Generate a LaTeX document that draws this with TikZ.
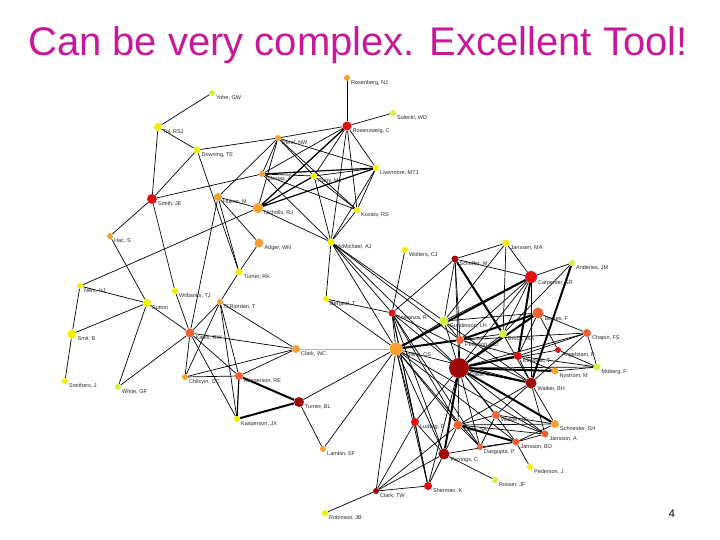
\documentclass[tikz,border=0pt]{standalone}
\usepackage{fontspec}
\setmainfont{Liberation Sans}
\usetikzlibrary{backgrounds}
\definecolor{cy}{HTML}{F0F000}
\definecolor{cg}{HTML}{D4F040}
\definecolor{co}{HTML}{F5A030}
\definecolor{cr}{HTML}{F06030}
\definecolor{cR}{HTML}{E01010}
\definecolor{cd}{HTML}{A00808}
\definecolor{tit}{HTML}{C8189A}
\tikzset{dot/.style={circle,draw=none,inner sep=0pt},
 lab/.style={font=\fontsize{5.5}{6}\selectfont,inner sep=1pt,text=black!85},
 ed/.style={line width=0.7pt,black},
 edt/.style={line width=2pt,black}}
\newcommand\NN[6]{\node[dot,fill=#4,minimum size=#5pt,label={[lab]-20:#6}] (#1) at (#2,#3) {};}
\begin{document}
\begin{tikzpicture}[x=1pt,y=-1pt]
\useasboundingbox (0,0) rectangle (720,540);
\node[font=\fontsize{40}{44}\selectfont,text=tit] (title) at (358,45) {Can be very complex. Excellent Tool!};
\node[font=\fontsize{11}{12}\selectfont] (pg) at (672,514) {4};
\NN{rosb}{347}{78}{co}{6}{Rosenberg, NJ}
\NN{sole}{393}{113}{cg}{6}{Solecki, WD}
\NN{yohe}{212}{93}{cg}{6}{Yohe, GW}
\NN{tol}{158}{127}{cy}{8}{Tol, RSJ}
\NN{dowl}{197}{150}{cy}{7}{Downing, TE}
\NN{rosz}{347}{126}{cR}{9}{Rosenzweig, C}
\NN{pere}{278}{138}{co}{6}{Perel, NW}
\NN{igle}{262}{174}{co}{6}{Iglesias, A}
\NN{parr}{314}{176}{cy}{6}{Parry, ML}
\NN{live}{376}{168}{cy}{6}{Livermore, MTJ}
\NN{smje}{152}{199}{cR}{10}{Smith, JE}
\NN{hulm}{218}{197}{co}{8}{Hulme, M}
\NN{nich}{258}{208}{co}{10}{Nicholls, RJ}
\NN{kova}{357}{210}{cy}{6}{Kovats, RS}
\NN{hac}{110}{236}{co}{6}{Hac, S}
\NN{adge}{259}{243}{co}{9}{Adger, WN}
\NN{mcmi}{331}{242}{cy}{7}{McMichael, AJ}
\NN{turk}{239}{272}{cy}{7}{Turner, RK}
\NN{wolt}{405}{250}{cy}{6}{Wolters, CJ}
\NN{jans}{506}{243}{cy}{7}{Janssen, MA}
\NN{sche}{455}{259}{cd}{7}{Scheffer, M}
\NN{ande}{572}{263}{cg}{6}{Anderies, JM}
\NN{carp}{531}{277}{cR}{12}{Carpenter, SR}
\NN{nem}{80}{286}{cy}{6}{Nem, HJ}
\NN{wilb}{175}{291}{cy}{6}{Wilbanks, TJ}
\NN{sutt}{147}{303}{cy}{8}{Sutton}
\NN{orio}{220}{302}{co}{6}{O'Riordan, T}
\NN{berg}{326}{299}{cy}{6}{Bergeal, T}
\NN{cost}{392}{313}{cR}{7}{Costanza, R}
\NN{berk}{538}{313}{cr}{11}{Berkes, F}
\NN{gund}{444}{321}{cg}{9}{Gunderson, LH}
\NN{broc}{503}{334}{cg}{8}{Brock, WA}
\NN{chap}{587}{333}{cr}{8}{Chapin, FS}
\NN{pete}{460}{340}{cr}{8}{Peterson, GD}
\NN{smit}{72}{334}{cy}{9}{Smit, B}
\NN{kate}{190}{333}{cr}{9}{Kates, RW}
\NN{clwc}{296}{349}{co}{8}{Clark, WC}
\NN{holl}{396}{349}{co}{13}{Holling, CS}
\NN{folk}{459}{368}{cd}{20}{Folke, C}
\NN{elmq}{518}{356}{cR}{8}{Elmqvist, T}
\NN{ange}{558}{350}{cR}{6}{Angelstam, P}
\NN{nyst}{555}{371}{co}{7}{Nystrom, M}
\NN{mobe}{597}{367}{cg}{7}{Moberg, F}
\NN{walk}{531}{383}{cd}{11}{Walker, BH}
\NN{chil}{185}{377}{co}{6}{Chilcyin, OC}
\NN{kasr}{239}{376}{cr}{8}{Kasperson, RE}
\NN{smth}{65}{381}{cy}{6}{Smithers, J}
\NN{whit}{118}{387}{cg}{6}{White, GF}
\NN{turb}{299}{402}{cd}{10}{Turner, BL}
\NN{kasj}{237}{419}{cy}{6}{Kasperson, JX}
\NN{wajg}{496}{415}{cr}{8}{Walker, JG}
\NN{ludw}{415}{422}{cR}{8}{Ludwig, D}
\NN{levi}{458}{425}{cr}{9}{Levin, SA}
\NN{schn}{555}{424}{co}{8}{Schneider, SH}
\NN{jana}{545}{434}{cr}{7}{Jansson, A}
\NN{janb}{516}{442}{cr}{7}{Jansson, BO}
\NN{dasg}{480}{447}{cr}{6}{Dasgupta, P}
\NN{perr}{444}{454}{cd}{11}{Perrings, C}
\NN{pede}{530}{467}{cy}{6}{Pederson, J}
\NN{lamb}{323}{449}{co}{6}{Lambin, EF}
\NN{sher}{428}{486}{cR}{8}{Sherman, K}
\NN{ross}{495}{480}{cg}{6}{Rosser, JF}
\NN{cltw}{376}{491}{cd}{6}{Clark, TW}
\NN{robi}{325}{513}{cy}{6}{Robinson, JB}
\begin{scope}[on background layer]
\foreach \a/\b in {rosb/rosz,sole/rosz,yohe/tol,tol/smje,tol/dowl,dowl/smje,dowl/pere,dowl/turk,
 pere/rosz,pere/igle,pere/nich,pere/parr,pere/kova,pere/live,pere/hulm,
 rosz/igle,rosz/parr,rosz/nich,rosz/live,rosz/kova,rosz/mcmi,
 igle/parr,igle/kova,parr/live,parr/kova,parr/mcmi,live/kova,live/mcmi,
 nich/mcmi,kova/mcmi,igle/mcmi,smje/igle,smje/hac,smje/wilb,hulm/nich,hulm/adge,hulm/turk,hulm/kate,
 adge/turk,nich/nem,hac/sutt,wolt/cost,mcmi/berg,mcmi/holl,mcmi/folk,mcmi/cost,mcmi/pete,mcmi/gund,
 nem/sutt,nem/smit,smit/sutt,smit/smth,sutt/whit,sutt/kate,wilb/kate,kate/orio,kate/clwc,kate/chil,kate/kasr,
 kate/kasj,kate/whit,orio/chil,orio/kasr,orio/clwc,orio/kasj,turk/orio,chil/clwc,chil/kasr,kasr/clwc,
 turb/lamb,turb/holl,lamb/holl,berg/cost,berg/holl,
 jans/sche,jans/carp,jans/gund,jans/broc,ande/carp,ande/broc,sche/carp,sche/gund,sche/cost,sche/pete,
 sche/folk,carp/folk,carp/broc,carp/gund,carp/walk,carp/pete,berk/chap,berk/elmq,berk/gund,
 berk/ange,chap/pete,chap/walk,chap/elmq,chap/folk,chap/mobe,gund/holl,gund/folk,gund/pete,broc/folk,broc/holl,
 pete/folk,pete/holl,cost/holl,cost/folk,cost/perr,cost/ludw,cost/levi,cost/sher,holl/walk,holl/ludw,
 holl/perr,holl/levi,holl/dasg,holl/janb,holl/sher,holl/cltw,folk/levi,folk/wajg,folk/dasg,
 folk/jana,folk/janb,folk/ludw,folk/mobe,folk/ange,elmq/nyst,elmq/mobe,elmq/walk,ange/mobe,
 nyst/mobe,walk/schn,walk/levi,walk/wajg,walk/jana,levi/wajg,levi/dasg,levi/perr,levi/jana,
 levi/schn,wajg/jana,wajg/dasg,wajg/schn,jana/janb,janb/dasg,janb/pede,janb/perr,schn/janb,
 perr/ross,perr/sher,perr/cltw,ludw/perr,ludw/sher,ludw/cltw,cltw/robi,cltw/sher,cltw/levi,
 folk/sher,cost/dasg,holl/jana,gund/walk,pete/elmq,broc/walk,cost/walk}
 {\draw[ed] (\a) -- (\b);}
\foreach \a/\b in {kasr/turb,kasj/turb,carp/holl,carp/elmq,ande/walk,sche/broc,berk/folk,
 folk/elmq,folk/nyst,folk/walk,folk/schn,folk/perr,pete/berk,levi/janb,holl/pete}
 {\draw[edt] (\a) -- (\b);}
\draw[line width=1.2pt] (kasr) -- (kasj) (igle) -- (live) (nich) -- (live) (nich) -- (parr) (rosz) -- (nich);
\draw[line width=1pt,black!30] (clwc) -- (holl);
\end{scope}
\end{tikzpicture}
\end{document}
